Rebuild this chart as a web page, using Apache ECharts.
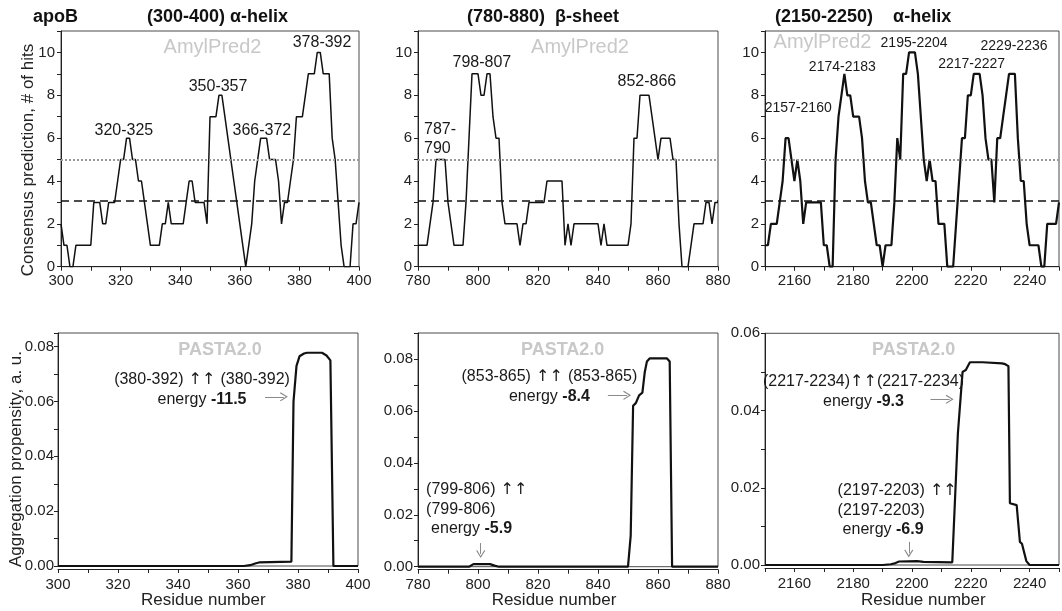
<!DOCTYPE html>
<html>
<head>
<meta charset="utf-8">
<title>apoB amyloidogenic regions</title>
<script src="https://cdn.jsdelivr.net/npm/echarts@6/dist/echarts.min.js"></script>
<style>
  html, body { margin: 0; padding: 0; background: #fff; }
  #chart { width: 1062px; height: 611px; }
</style>
</head>
<body>
<div id="chart"></div>
<script>
// ---- AmylPred2 consensus: number of hits per residue ----
const hitsStartA = 300;
const hitsA = [
  2, 1, 1, 0, 0, 1, 1, 1, 1, 1,
  1, 3, 3, 3, 2, 2, 3, 3, 3, 4,
  5, 5, 6, 6, 5, 5, 4, 4, 3, 2,
  1, 1, 1, 1, 2, 2, 3, 2, 2, 2,
  2, 2, 3, 4, 4, 3, 3, 3, 3, 2,
  7, 7, 7, 8, 8, 7, 6, 5, 4, 3,
  2, 1, 0, 1, 2, 4, 5, 6, 6, 6,
  5, 5, 5, 4, 2, 3, 3, 4, 5, 7,
  7, 7, 8, 9, 9, 9, 10, 10, 9, 9,
  9, 6, 5, 3, 1, 0, 0, 0, 2, 2,
  3
];

const hitsStartB = 780;
const hitsB = [
  1, 1, 1, 1, 2, 3, 5, 5, 5, 5,
  3, 2, 1, 1, 1, 1, 3, 6, 9, 9,
  9, 8, 8, 9, 9, 7, 6, 6, 3, 2,
  2, 2, 2, 2, 1, 2, 2, 3, 3, 3,
  3, 3, 3, 4, 4, 4, 4, 4, 4, 1,
  2, 1, 2, 2, 2, 2, 2, 2, 2, 2,
  2, 1, 2, 1, 1, 1, 1, 1, 1, 1,
  1, 2, 6, 6, 8, 8, 8, 8, 7, 6,
  5, 6, 6, 6, 6, 5, 5, 2, 0, 0,
  0, 1, 2, 2, 2, 2, 3, 3, 2, 3,
  3
];

const hitsStartC = 2150;
const hitsC = [
  1, 1, 2, 2, 2, 3, 4, 6, 6, 5,
  4, 5, 4, 2, 3, 3, 3, 3, 3, 3,
  1, 1, 0, 0, 5, 7, 8, 9, 8, 8,
  7, 7, 7, 6, 4, 3, 3, 2, 1, 1,
  0, 1, 1, 1, 3, 6, 5, 9, 9, 10,
  10, 10, 9, 7, 5, 4, 5, 4, 4, 2,
  2, 2, 0, 0, 0, 2, 4, 6, 6, 8,
  8, 9, 9, 9, 8, 6, 5, 5, 3, 6,
  6, 7, 8, 9, 9, 9, 6, 4, 4, 2,
  1, 1, 1, 1, 0, 0, 2, 2, 2, 2,
  3
];

// consensus threshold levels
const thresholdDashed = 3.1;
const thresholdDotted = 5;

// hot-spot labels: [text, residue, hits]
const peaksA = [['320-325', 321.1, 6.36], ['350-357', 352.7, 8.39], ['366-372', 367.4, 6.36], ['378-392', 387.6, 10.48]];
const peaksB = [['798-807', 801.3, 9.51], ['852-866', 856.3, 8.62]];
const peaksBLeft = [['787-\n790', 782, 5.94]];
const peaksC = [['2157-2160', 2161.3, 7.4], ['2174-2183', 2176.3, 9.32], ['2195-2204', 2200.7, 10.44], ['2217-2227', 2220.3, 9.46], ['2229-2236', 2234.7, 10.3]];

// ---- PASTA2.0 aggregation propensity profiles ----
const pastaResA = [300, 362, 364, 366, 367, 377.8, 378.5, 379.5, 380.5, 382, 383, 388, 389.5, 390.8, 391.8, 400];
const pastaValA = [0, 0, 0.0003, 0.001, 0.0013, 0.0016, 0.06, 0.073, 0.0765, 0.0775, 0.0778, 0.0778, 0.0768, 0.075, 0, 0];

const pastaResB = [780, 797, 798.5, 804, 805.5, 807, 850, 850.9, 851.7, 852.6, 853.7, 854.8, 855.6, 856.3, 857.2, 863, 863.9, 864.7, 880];
const pastaValB = [0, 0, 0.001, 0.001, 0.0004, 0, 0, 0.012, 0.062, 0.063, 0.066, 0.067, 0.075, 0.079, 0.0802, 0.0802, 0.079, 0, 0];

const pastaResC = [2150, 2190, 2192.8, 2194.4, 2195.6, 2201.7, 2203.9, 2213.7, 2215.6, 2217.2, 2218.3, 2219.7, 2224, 2230.6, 2231.7, 2232.8, 2233.3, 2235.6, 2236.7, 2237.4, 2238.9, 2240, 2250];
const pastaValC = [0, 0, 0.0002, 0.0005, 0.0009, 0.001, 0.0008, 0.0007, 0.034, 0.05, 0.0505, 0.0525, 0.0525, 0.0522, 0.052, 0.0515, 0.016, 0.0155, 0.006, 0.0055, 0.001, 0, 0];

// pairing annotations: [segment, separator, segment, energy]
const pairA = ['(380-392)', ' \u2191\u2191 ', '(380-392)', '-11.5'];
const pairB = ['(853-865)', ' \u2191\u2191 ', '(853-865)', '-8.4'];
const pairBsmall = ['(799-806)', ' \u2191\u2191', '(799-806)', '-5.9'];
const pairC = ['(2217-2234)', '\u2191\u2191', '(2217-2234)', '-9.3'];
const pairCsmall = ['(2197-2203)', ' \u2191\u2191', '(2197-2203)', '-6.9'];

// ---- helpers ----
const FONT = "'Liberation Sans', Arial, Helvetica, sans-serif";
const ARROW_FONT = "'DejaVu Sans', 'Liberation Sans', sans-serif";
const INK = '#1a1a1a';
const toPairs = (start, vals) => vals.map((v, i) => [start + i, v]);
const zip = (xs, ys) => xs.map((x, i) => [x, ys[i]]);
const onStep = (step, digits) => v => {
  const r = v / step;
  return Math.abs(r - Math.round(r)) < 1e-6 ? Number(v).toFixed(digits) : '';
};
const ARROW = 'path://M5,0 L10,9 L9,10 L5,2.6 L1,10 L0,9 Z';

const grids = [
  { left: 61,  top: 31,    width: 298, height: 235.7 },
  { left: 418, top: 31,    width: 300, height: 235.7 },
  { left: 765, top: 31,    width: 300, height: 235.7 },
  { left: 58,  top: 333,   width: 300, height: 233 },
  { left: 418, top: 333,   width: 300, height: 233.7 },
  { left: 765, top: 333.3, width: 300, height: 231.7 }
].map(g => Object.assign(g, { show: true, borderColor: '#4a4a4a', borderWidth: 1, backgroundColor: 'transparent', containLabel: false }));

function xAxisCfg(gi, min, max, bottom) {
  return {
    type: 'value', gridIndex: gi, min: min, max: max, interval: 10,
    offset: bottom ? 3 : 0,
    axisLine: { show: true, onZero: false, lineStyle: { color: '#222', width: 1 } },
    axisTick: { show: true, length: 4, lineStyle: { color: '#222' } },
    splitLine: { show: false },
    axisLabel: { formatter: onStep(20, 0), fontSize: 15, color: '#222', fontFamily: FONT, margin: bottom ? 8 : 7, showMaxLabel: true }
  };
}
function yAxisCfg(gi, min, max, step, labelStep, digits, margin) {
  return {
    type: 'value', gridIndex: gi, min: min, max: max, interval: step,
    axisLine: { show: true, onZero: false, lineStyle: { color: '#222', width: 1 } },
    axisTick: { show: true, length: 4, lineStyle: { color: '#222' } },
    splitLine: { show: false },
    axisLabel: { formatter: onStep(labelStep, digits), fontSize: 15, color: '#222', fontFamily: FONT, margin: margin }
  };
}

function peakPoints(list, size, align) {
  return list.map(([text, x, y]) => ({
    coord: [x, y], symbol: 'rect', symbolSize: 1, itemStyle: { color: 'rgba(0,0,0,0)' },
    label: {
      show: true, position: 'inside', align: align || 'center', verticalAlign: 'middle',
      formatter: text, fontSize: size, lineHeight: 19, color: INK, fontFamily: FONT
    }
  }));
}

function richSet(lh) {
  return {
    n: { fontSize: 16, lineHeight: lh, color: INK, fontFamily: FONT },
    a: { fontSize: 16, lineHeight: lh, color: INK, fontFamily: ARROW_FONT },
    e: { fontSize: 16, lineHeight: lh, color: INK, fontFamily: FONT, padding: [0, 0, 0, 5] },
    b: { fontSize: 16, lineHeight: lh, color: INK, fontFamily: FONT, fontWeight: 'bold' }
  };
}
function pairLabel(p, x, y) {
  return {
    coord: [x, y], symbol: 'rect', symbolSize: 1, itemStyle: { color: 'rgba(0,0,0,0)' },
    label: {
      show: true, position: 'inside', align: 'center', verticalAlign: 'middle',
      formatter: '{n|' + p[0] + '}{a|' + p[1] + '}{n|' + p[2] + '}\n{n|energy }{b|' + p[3] + '}',
      rich: richSet(20)
    }
  };
}
function pairLabelSmall(p, x, y) {
  return {
    coord: [x, y], symbol: 'rect', symbolSize: 1, itemStyle: { color: 'rgba(0,0,0,0)' },
    label: {
      show: true, position: 'inside', align: 'left', verticalAlign: 'middle',
      formatter: '{n|' + p[0] + '}{a|' + p[1] + '}\n{n|' + p[2] + '}\n{e|energy }{b|' + p[3] + '}',
      rich: richSet(19.5)
    }
  };
}
function arrows(list) {
  return {
    silent: true, animation: false, symbol: ['none', ARROW], symbolSize: [9, 8],
    label: { show: false },
    lineStyle: { color: '#8a8a8a', width: 1, type: 'solid' },
    data: list.map(([x1, y1, x2, y2]) => [{ coord: [x1, y1] }, { coord: [x2, y2] }])
  };
}
const thresholds = {
  silent: true, animation: false, symbol: 'none', label: { show: false },
  data: [
    { yAxis: thresholdDashed, lineStyle: { type: [8, 5], color: '#111', width: 1.5 } },
    { yAxis: thresholdDotted, lineStyle: { type: [2, 2], color: '#9a9a9a', width: 2 } }
  ]
};

function hitsSeries(gi, data, width, points) {
  return {
    type: 'line', xAxisIndex: gi, yAxisIndex: gi, data: data, symbol: 'none', showSymbol: false,
    lineStyle: { color: '#111', width: width }, animation: false, clip: true,
    markLine: thresholds,
    markPoint: { silent: true, animation: false, data: points }
  };
}
function pastaSeries(gi, data, points, arrowList) {
  return {
    type: 'line', xAxisIndex: gi, yAxisIndex: gi, data: data, symbol: 'none', showSymbol: false,
    lineStyle: { color: '#111', width: 2.2 }, animation: false, clip: false,
    markLine: arrows(arrowList),
    markPoint: { silent: true, animation: false, data: points }
  };
}

function watermark(text, x, y, bold) {
  return {
    type: 'text', x: x, y: y, silent: true,
    style: {
      text: text, fill: '#c8c8c8', textAlign: 'center', textVerticalAlign: 'middle',
      font: (bold ? 'bold 18px ' : '20px ') + FONT,
      shadowBlur: 3, shadowColor: 'rgba(150,150,150,0.9)'
    }
  };
}
function label(text, x, y, font, extra) {
  return Object.assign({
    type: 'text', x: x, y: y, silent: true,
    style: Object.assign({ text: text, fill: '#111', font: font, textAlign: 'left', textVerticalAlign: 'middle' }, extra && extra.style)
  }, extra && extra.rotation ? { rotation: extra.rotation } : {});
}
const axisTitle = { fill: '#222', textAlign: 'center' };

const option = {
  backgroundColor: '#fff',
  animation: false,
  grid: grids,
  xAxis: [
    xAxisCfg(0, 300, 400, false),
    xAxisCfg(1, 780, 880, false),
    xAxisCfg(2, 2150, 2250, false),
    xAxisCfg(3, 300, 400, true),
    xAxisCfg(4, 780, 880, true),
    xAxisCfg(5, 2150, 2250, true)
  ],
  yAxis: [
    yAxisCfg(0, 0, 11, 1, 2, 0, 6),
    yAxisCfg(1, 0, 11, 1, 2, 0, 6),
    yAxisCfg(2, 0, 11, 1, 2, 0, 6),
    yAxisCfg(3, 0, 0.085, 0.01, 0.02, 2, 4),
    yAxisCfg(4, 0, 0.09, 0.01, 0.02, 2, 5),
    yAxisCfg(5, 0, 0.06, 0.01, 0.02, 2, 5)
  ],
  series: [
    hitsSeries(0, toPairs(hitsStartA, hitsA), 1.5, peakPoints(peaksA, 16)),
    hitsSeries(1, toPairs(hitsStartB, hitsB), 1.5, peakPoints(peaksB, 16).concat(peakPoints(peaksBLeft, 16, 'left'))),
    hitsSeries(2, toPairs(hitsStartC, hitsC), 2.2, peakPoints(peaksC, 14)),
    pastaSeries(3, zip(pastaResA, pastaValA),
      [pairLabel(pairA, 348, 0.0642)],
      [[369, 0.0617, 375.3, 0.0617]]),
    pastaSeries(4, zip(pastaResB, pastaValB),
      [pairLabel(pairB, 823.8, 0.0694), pairLabelSmall(pairBsmall, 782.7, 0.0221)],
      [[843.3, 0.066, 849.7, 0.066], [800.9, 0.0091, 800.9, 0.0049]]),
    pastaSeries(5, zip(pastaResC, pastaValC),
      [pairLabel(pairC, 2183.5, 0.0449), pairLabelSmall(pairCsmall, 2174.7, 0.0142)],
      [[2206.3, 0.0429, 2212.8, 0.0429], [2198.9, 0.006, 2198.9, 0.003]])
  ],
  graphic: [
    label('apoB', 33, 17, 'bold 18px ' + FONT),
    label('(300-400) \u03b1-helix', 147, 17, 'bold 18px ' + FONT),
    label('(780-880)  \u03b2-sheet', 467, 17, 'bold 18px ' + FONT),
    label('(2150-2250)    \u03b1-helix', 775, 17, 'bold 18px ' + FONT),
    watermark('AmylPred2', 212.5, 47),
    watermark('AmylPred2', 580, 47),
    watermark('AmylPred2', 822.5, 42),
    watermark('PASTA2.0', 220, 350, true),
    watermark('PASTA2.0', 562.7, 350, true),
    watermark('PASTA2.0', 913.7, 350, true),
    label('Consensus prediction, # of hits', 28, 160, '17px ' + FONT, { rotation: Math.PI / 2, style: axisTitle }),
    label('Aggregation propensity, a. u.', 16.5, 459, '17px ' + FONT, { rotation: Math.PI / 2, style: axisTitle }),
    label('Residue number', 203.3, 600, '17px ' + FONT, { style: axisTitle }),
    label('Residue number', 554, 600, '17px ' + FONT, { style: axisTitle }),
    label('Residue number', 923.3, 600, '17px ' + FONT, { style: axisTitle })
  ]
};

const chart = echarts.init(document.getElementById('chart'), null, { renderer: 'canvas', width: 1062, height: 611 });
chart.setOption(option);
</script>
</body>
</html>
